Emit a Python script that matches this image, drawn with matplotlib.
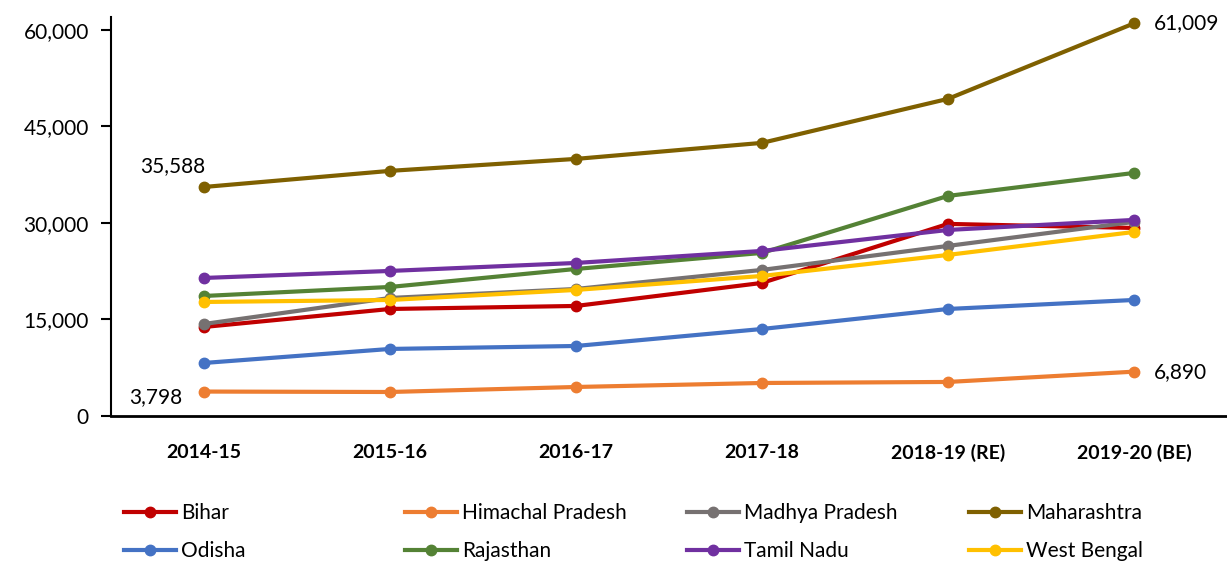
import matplotlib.pyplot as plt
from matplotlib.ticker import FuncFormatter

plt.rcParams['font.family'] = ['Lato', 'DejaVu Sans']

years = ['2014-15', '2015-16', '2016-17', '2017-18', '2018-19 (RE)', '2019-20 (BE)']

bihar = [13835, 16630, 17100, 20680, 29850, 29220]
himachal = [3798, 3730, 4510, 5130, 5290, 6890]
madhya = [14300, 18340, 19740, 22700, 26430, 30160]
maharashtra = [35588, 38090, 39950, 42440, 49280, 61009]
odisha = [8240, 10420, 10880, 13520, 16630, 18030]
rajasthan = [18650, 20050, 22850, 25340, 34200, 37770]
tamil = [21450, 22540, 23780, 25650, 28910, 30470]
bengal = [17720, 18030, 19590, 21760, 25030, 28600]

series = [
    ('Bihar', bihar, '#c00000'),
    ('Himachal Pradesh', himachal, '#ed7d31'),
    ('Madhya Pradesh', madhya, '#767171'),
    ('Maharashtra', maharashtra, '#7f6000'),
    ('Odisha', odisha, '#4472c4'),
    ('Rajasthan', rajasthan, '#548235'),
    ('Tamil Nadu', tamil, '#7030a0'),
    ('West Bengal', bengal, '#ffc000'),
]

fig = plt.figure(figsize=(12.27, 5.65), dpi=100)
ax = fig.add_axes([111 / 1227, 149 / 565, 1 - 111 / 1227, 399 / 565])

x = list(range(len(years)))
handles = []
for name, vals, col in series:
    h, = ax.plot(x, vals, color=col, lw=3, marker='o', ms=7.5, label=name)
    handles.append(h)

# end labels
ax.annotate('35,588', (0, maharashtra[0]), xytext=(-46, 8), textcoords='offset points',
            fontsize=15, va='bottom', ha='left')
ax.annotate('61,009', (5, maharashtra[-1]), xytext=(14, 0), textcoords='offset points',
            fontsize=15, va='center', ha='left')
ax.annotate('3,798', (0, himachal[0]), xytext=(-54, -4), textcoords='offset points',
            fontsize=15, va='center', ha='left')
ax.annotate('6,890', (5, himachal[-1]), xytext=(14, 0), textcoords='offset points',
            fontsize=15, va='center', ha='left')

ax.set_xlim(-0.5, 5.5)
ax.set_ylim(0, 62000)
ax.set_yticks([0, 15000, 30000, 45000, 60000])
ax.yaxis.set_major_formatter(FuncFormatter(lambda v, p: f'{int(v):,}'))
ax.set_xticks(x)
ax.set_xticklabels(years, fontweight='bold')
ax.tick_params(axis='y', labelsize=15, length=7, width=1.5, pad=9)
ax.tick_params(axis='x', labelsize=14, length=0, pad=20)

for s in ['top', 'right']:
    ax.spines[s].set_visible(False)
ax.spines['left'].set_linewidth(1.5)
ax.spines['bottom'].set_linewidth(2)

# legend: 4 equal-width columns, two rows, filled row by row
col_x = [124, 405, 687, 969]
for c in range(4):
    idx = [c, c + 4]
    fig.legend([handles[i] for i in idx], [series[i][0] for i in idx],
               loc='center left', bbox_to_anchor=(col_x[c] / 1227, 1 - 532 / 565),
               frameon=False, fontsize=15, handlelength=2.5, labelspacing=0.85,
               borderpad=0, borderaxespad=0, handletextpad=0.25)

fig.savefig('out.png', dpi=100)
